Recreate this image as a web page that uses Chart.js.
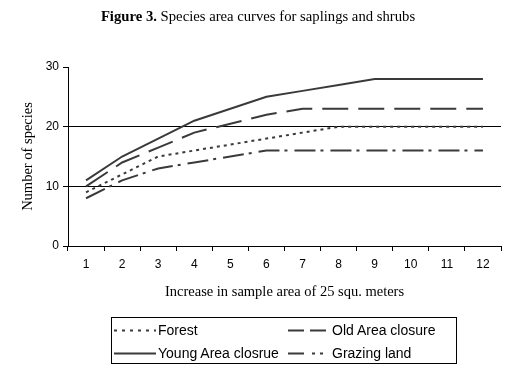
<!DOCTYPE html>
<html lang="en">
<head>
  <meta charset="UTF-8" />
  <title>Species area curves</title>
  <script src="https://cdn.jsdelivr.net/npm/chart.js"></script>
  <style>
    body { margin: 0; background: #fff; }
    #wrap { position: relative; width: 516px; height: 372px; overflow: hidden; }
    #chart { position: absolute; left: 0; top: 0; }
    #title {
      position: absolute; left: 0; top: 8px; width: 516px; text-align: center;
      font-family: "Liberation Serif", serif; font-size: 14.7px; line-height: 17px; color: #000;
    }
    #legend {
      position: absolute; left: 111px; top: 317px; width: 344px; height: 45px;
      border: 1px solid #000; font-family: "Liberation Sans", Arial, sans-serif; font-size: 14px;
    }
    .item { position: absolute; height: 18px; line-height: 18px; white-space: nowrap; }
    .item svg { position: absolute; left: 0; top: 8px; }
    .item span { position: absolute; left: 44px; top: 0; }
  </style>
</head>
<body>
<div id="wrap">
  <canvas id="chart" width="516" height="372"></canvas>
  <div id="title"><b>Figure 3.</b> Species area curves for saplings and shrubs</div>
  <div id="legend"></div>
</div>
<script>
  // values
  const categories = ['1', '2', '3', '4', '5', '6', '7', '8', '9', '10', '11', '12'];
  const forest = [9, 12, 15, 16, 17, 18, 19, 20, 20, 20, 20, 20];
  const oldClosure = [10, 14, 16.5, 19, 20.5, 22, 23, 23, 23, 23, 23, 23];
  const youngClosure = [11, 15, 18, 21, 23, 25, 26, 27, 28, 28, 28, 28];
  const grazing = [8, 11, 13, 14, 15, 16, 16, 16, 16, 16, 16, 16];
  const yTicks = [0, 10, 20, 30];

  const lineColor = '#3a3a3a';
  const series = [
    { label: 'Forest', data: forest, dash: [3, 4], keyDash: [3, 5] },
    { label: 'Old Area closure', data: oldClosure, dash: [26, 10], keyDash: [16, 6] },
    { label: 'Young Area closrue', data: youngClosure, dash: [], keyDash: [] },
    { label: 'Grazing land', data: grazing, dash: [21, 5, 3, 7], keyDash: [16, 8, 3, 5, 3, 7] }
  ];

  const sans = { family: '"Liberation Sans", Arial, sans-serif', size: 12 };
  const serif = { family: '"Liberation Serif", serif', size: 14.5 };

  new Chart(document.getElementById('chart'), {
    type: 'line',
    data: {
      labels: categories,
      datasets: series.map(s => ({
        label: s.label,
        data: s.data,
        borderColor: lineColor,
        borderWidth: 2,
        borderDash: s.dash,
        pointRadius: 0,
        tension: 0,
        fill: false
      }))
    },
    options: {
      responsive: false,
      animation: false,
      devicePixelRatio: 1,
      layout: { padding: { left: 0, top: 67, right: 15, bottom: 66 } },
      plugins: { legend: { display: false }, tooltip: { enabled: false } },
      scales: {
        x: {
          offset: true,
          grid: { offset: true, drawOnChartArea: false, tickColor: '#000', tickLength: 5 },
          border: { display: true, color: '#000', width: 1 },
          ticks: { color: '#000', font: sans, padding: 6, maxRotation: 0 },
          title: { display: true, text: 'Increase in sample area of 25 squ. meters', color: '#000', font: serif, padding: { top: 4, bottom: 5 } },
          afterFit: scale => { scale.height = 60; }
        },
        y: {
          min: 0, max: 30,
          afterBuildTicks: scale => { scale.ticks = yTicks.map(v => ({ value: v })); },
          grid: {
            color: ctx => (ctx.tick && (ctx.tick.value === 10 || ctx.tick.value === 20)) ? '#000' : 'rgba(0,0,0,0)',
            tickColor: '#000', tickLength: 5, lineWidth: 1
          },
          border: { display: true, color: '#000', width: 1 },
          ticks: { color: '#000', font: sans, padding: 4 },
          title: { display: true, text: 'Number of species', color: '#000', font: serif, padding: { top: 19, bottom: 0 } },
          afterFit: scale => { scale.width = 68; }
        }
      }
    }
  });

  // legend, two columns like the original
  const legendPos = [
    { left: 2, top: 3 }, { left: 176, top: 3 },
    { left: 2, top: 26 }, { left: 176, top: 26 }
  ];
  const legend = document.getElementById('legend');
  series.forEach((s, i) => {
    const div = document.createElement('div');
    div.className = 'item';
    div.style.left = legendPos[i].left + 'px';
    div.style.top = legendPos[i].top + 'px';
    div.innerHTML = `<svg width="42" height="3"><line x1="0" y1="1.5" x2="42" y2="1.5" stroke="${lineColor}" stroke-width="2" stroke-dasharray="${s.keyDash.join(' ') || 'none'}"/></svg><span>${s.label}</span>`;
    legend.appendChild(div);
  });
</script>
</body>
</html>
